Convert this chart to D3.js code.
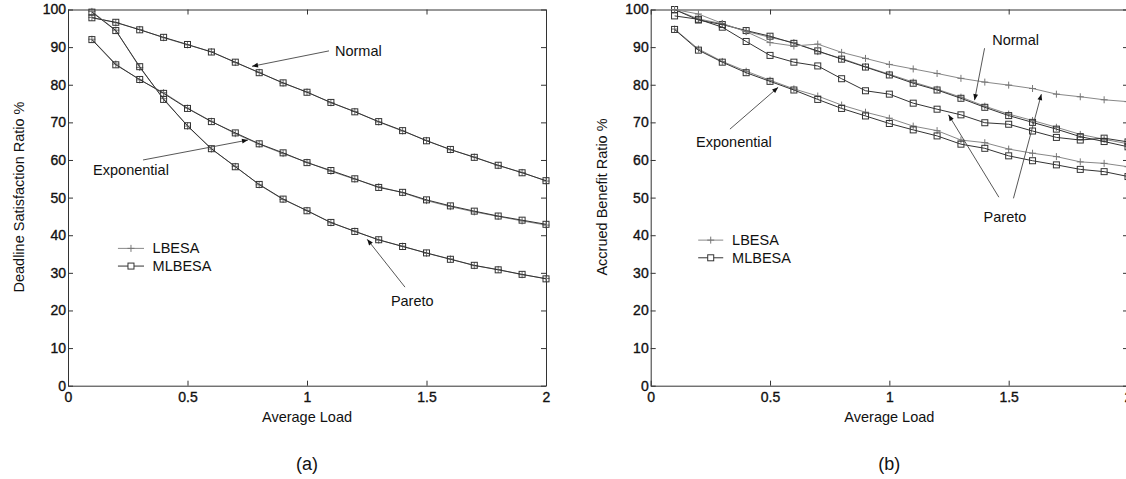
<!doctype html>
<html>
<head>
    <title>Deadline satisfaction and accrued benefit</title>
    <script src='https://d3js.org/d3.v7.min.js'></script>
    <style>
        body { margin: 0; background: #fff; }
        text { font-family: "Liberation Sans", Arial, Helvetica, sans-serif; fill: #111; }
    </style>
</head>
<body>
<svg width="1126" height="479"></svg>
<script>
    // average load values on the x axis
    var loads = [0.1, 0.2, 0.3, 0.4, 0.5, 0.6, 0.7, 0.8, 0.9, 1.0,
                 1.1, 1.2, 1.3, 1.4, 1.5, 1.6, 1.7, 1.8, 1.9, 2.0];

    var xTicks = [0, 0.5, 1, 1.5, 2];
    var yTicks = [0, 10, 20, 30, 40, 50, 60, 70, 80, 90, 100];

    // (a) deadline satisfaction ratio %
    var dsrNormalLB  = [97.9, 96.5, 94.7, 92.5, 90.6, 88.8, 85.9, 83.3, 80.4, 78.1, 75.2, 72.9, 70.1, 67.7, 65.2, 62.7, 60.8, 58.5, 56.7, 54.4];
    var dsrNormalMLB = [97.8, 96.6, 94.6, 92.6, 90.7, 88.7, 86.0, 83.2, 80.5, 78.0, 75.3, 72.8, 70.2, 67.8, 65.1, 62.8, 60.7, 58.6, 56.6, 54.5];
    var dsrExpLB     = [92.1, 85.5, 81.3, 77.9, 73.8, 70.3, 67.0, 64.2, 61.7, 59.4, 57.0, 54.9, 52.9, 51.3, 49.2, 47.6, 46.2, 45.0, 43.8, 42.7];
    var dsrExpMLB    = [92.0, 85.3, 81.4, 77.7, 73.7, 70.2, 67.2, 64.3, 61.9, 59.3, 57.2, 55.0, 52.7, 51.4, 49.4, 47.8, 46.4, 45.1, 44.0, 42.9];
    var dsrParetoLB  = [99.5, 94.5, 84.6, 76.3, 69.0, 62.9, 58.3, 53.4, 49.5, 46.6, 43.3, 41.1, 38.7, 37.1, 35.2, 33.7, 31.9, 30.9, 29.5, 28.5];
    var dsrParetoMLB = [99.3, 94.4, 84.8, 76.1, 69.1, 63.0, 58.2, 53.5, 49.6, 46.5, 43.4, 41.0, 38.8, 37.0, 35.3, 33.6, 32.0, 30.8, 29.6, 28.4];

    // (b) accrued benefit ratio %
    var abrNormalLB  = [100.0, 97.5, 96.2, 94.2, 92.6, 91.2, 88.8, 87.0, 84.8, 82.8, 80.7, 78.8, 76.7, 74.3, 72.2, 70.5, 68.7, 66.8, 65.5, 64.3];
    var abrNormalMLB = [100.0, 97.2, 96.0, 94.4, 92.9, 91.0, 89.0, 86.8, 84.7, 82.6, 80.4, 78.6, 76.4, 74.0, 71.8, 70.0, 68.2, 66.2, 64.9, 63.5];
    var abrExpLB     = [94.8, 89.5, 86.2, 83.6, 81.2, 78.9, 77.0, 74.6, 72.7, 71.1, 69.0, 67.8, 65.3, 64.6, 62.9, 61.8, 60.9, 59.5, 59.1, 58.2];
    var abrExpMLB    = [94.7, 89.2, 86.0, 83.2, 80.9, 78.6, 76.1, 73.7, 71.7, 69.7, 68.0, 66.4, 64.2, 63.1, 61.1, 59.8, 58.7, 57.5, 56.9, 55.6];
    var abrParetoLB  = [100.0, 98.8, 96.3, 94.1, 91.2, 90.3, 90.8, 88.6, 87.0, 85.4, 84.2, 83.0, 81.7, 80.7, 79.9, 79.0, 77.5, 76.8, 76.0, 75.5];
    var abrParetoMLB = [98.3, 97.4, 95.3, 91.5, 87.8, 86.0, 85.0, 81.6, 78.4, 77.5, 75.1, 73.5, 72.0, 69.9, 69.5, 67.7, 66.0, 65.3, 65.8, 64.8];

    var svg = d3.select("svg");

    // arrow head marker
    svg.append("defs").append("marker")
        .attr("id", "arrow")
        .attr("viewBox", "0 0 10 10")
        .attr("refX", 10).attr("refY", 5)
        .attr("markerWidth", 7).attr("markerHeight", 6)
        .attr("markerUnits", "userSpaceOnUse")
        .attr("orient", "auto")
        .append("path").attr("d", "M0,1L10,5L0,9Z").attr("fill", "#111");

    function drawPanel(p) {
        var x = d3.scaleLinear().domain([0, 2]).range([p.left, p.right]);
        var y = d3.scaleLinear().domain([0, 100]).range([385.7, 9.5]);
        var g = svg.append("g");

        // axes, ticks pointing inward like matlab
        g.append("g").attr("transform", "translate(0,385.7)")
            .call(d3.axisBottom(x).tickValues(xTicks).tickSizeInner(-5).tickSizeOuter(0).tickPadding(6).tickFormat(function(d){ return d; }));
        g.append("g").attr("transform", "translate(" + p.left + ",0)")
            .call(d3.axisLeft(y).tickValues(yTicks).tickSizeInner(-5).tickSizeOuter(0).tickPadding(2));
        g.append("g").attr("transform", "translate(0,9.5)")
            .call(d3.axisTop(x).tickValues(xTicks).tickSizeInner(-5).tickSizeOuter(0).tickFormat(""));
        g.append("g").attr("transform", "translate(" + p.right + ",0)")
            .call(d3.axisRight(y).tickValues(yTicks).tickSizeInner(-5).tickSizeOuter(0).tickFormat(""));

        g.selectAll(".domain").attr("stroke", "#333");
        g.selectAll(".tick line").attr("stroke", "#333");
        g.selectAll(".tick text").style("font-size", "14px").attr("fill", "#111")
            .attr("stroke", "#111").attr("stroke-width", 0.35);

        // axis titles
        g.append("text")
            .attr("x", (p.left + p.right) / 2).attr("y", 417)
            .attr("text-anchor", "middle").attr("dy", "0.35em")
            .style("font-size", "14.5px").text("Average Load");
        g.append("text")
            .attr("transform", "translate(" + (p.left - 49) + ",197) rotate(-90)")
            .attr("text-anchor", "middle").attr("dy", "0.35em")
            .style("font-size", "14.5px").text(p.ylabel);
        g.append("text")
            .attr("x", (p.left + p.right) / 2).attr("y", 464)
            .attr("text-anchor", "middle").attr("dy", "0.35em")
            .style("font-size", "18px").text(p.caption);

        var line = d3.line()
            .x(function(d, i) { return x(loads[i]); })
            .y(function(d) { return y(d); });

        p.series.forEach(function(s) {
            g.append("path").datum(s.values)
                .attr("d", line)
                .attr("fill", "none")
                .attr("stroke", s.mlb ? "#333" : "#888")
                .attr("stroke-width", 1);
            var m = g.selectAll(null).data(s.values).enter().append("g")
                .attr("transform", function(d, i) { return "translate(" + x(loads[i]) + "," + y(d) + ")"; });
            if (s.mlb) {
                m.append("rect").attr("x", -3).attr("y", -3).attr("width", 6).attr("height", 6)
                    .attr("fill", "none").attr("stroke", "#333").attr("stroke-width", 1);
            } else {
                m.append("path").attr("d", "M-3.5,0H3.5M0,-3.5V3.5")
                    .attr("stroke", "#777").attr("stroke-width", 1);
            }
        });

        // legend
        var lg = p.legend;
        [["LBESA", false, lg.y1], ["MLBESA", true, lg.y2]].forEach(function(e) {
            var ly = y(e[2]);
            g.append("line").attr("x1", x(lg.x1)).attr("x2", x(lg.x2)).attr("y1", ly).attr("y2", ly)
                .attr("stroke", e[1] ? "#333" : "#888");
            var cx = (x(lg.x1) + x(lg.x2)) / 2;
            if (e[1]) {
                g.append("rect").attr("x", cx - 3).attr("y", ly - 3).attr("width", 6).attr("height", 6)
                    .attr("fill", "#fff").attr("stroke", "#333");
            } else {
                g.append("path").attr("d", "M" + (cx - 3.5) + "," + ly + "H" + (cx + 3.5) + "M" + cx + "," + (ly - 3.5) + "V" + (ly + 3.5))
                    .attr("stroke", "#777");
            }
            g.append("text").attr("x", x(lg.tx)).attr("y", ly).attr("dy", "0.35em")
                .style("font-size", "14.5px").text(e[0]);
        });

        // curve labels with arrows
        p.notes.forEach(function(n) {
            g.append("text").attr("x", x(n.tx)).attr("y", y(n.ty)).attr("dy", "0.35em")
                .style("font-size", "14.5px").text(n.label);
            n.arrows.forEach(function(a) {
                g.append("line")
                    .attr("x1", x(a[0])).attr("y1", y(a[1]))
                    .attr("x2", x(a[2])).attr("y2", y(a[3]))
                    .attr("stroke", "#444").attr("stroke-width", 0.9)
                    .attr("marker-end", "url(#arrow)");
            });
        });
    }

    drawPanel({
        left: 68, right: 546, caption: "(a)",
        ylabel: "Deadline Satisfaction Ratio %",
        series: [
            { values: dsrNormalLB, mlb: false }, { values: dsrNormalMLB, mlb: true },
            { values: dsrExpLB, mlb: false }, { values: dsrExpMLB, mlb: true },
            { values: dsrParetoLB, mlb: false }, { values: dsrParetoMLB, mlb: true }
        ],
        legend: { x1: 0.209, x2: 0.318, tx: 0.354, y1: 36.5, y2: 31.8 },
        notes: [
            { label: "Normal", tx: 1.117, ty: 89.0, arrows: [[1.092, 89.0, 0.770, 84.9]] },
            { label: "Exponential", tx: 0.105, ty: 57.3, arrows: [[0.314, 60.0, 0.753, 65.3]] },
            { label: "Pareto", tx: 1.351, ty: 22.6, arrows: [[1.410, 26.2, 1.252, 38.9]] }
        ]
    });

    drawPanel({
        left: 650.7, right: 1128, caption: "(b)",
        ylabel: "Accrued Benefit Ratio %",
        series: [
            { values: abrNormalLB, mlb: false }, { values: abrNormalMLB, mlb: true },
            { values: abrExpLB, mlb: false }, { values: abrExpMLB, mlb: true },
            { values: abrParetoLB, mlb: false }, { values: abrParetoMLB, mlb: true }
        ],
        legend: { x1: 0.199, x2: 0.304, tx: 0.341, y1: 38.7, y2: 34.0 },
        notes: [
            { label: "Normal", tx: 1.431, ty: 91.9, arrows: [[1.399, 89.7, 1.357, 75.9]] },
            { label: "Exponential", tx: 0.190, ty: 64.9, arrows: [[0.332, 68.2, 0.534, 79.3]] },
            { label: "Pareto", tx: 1.395, ty: 44.8, arrows: [[1.459, 50.1, 1.248, 72.0], [1.520, 49.8, 1.637, 77.5]] }
        ]
    });
</script>
</body>
</html>
